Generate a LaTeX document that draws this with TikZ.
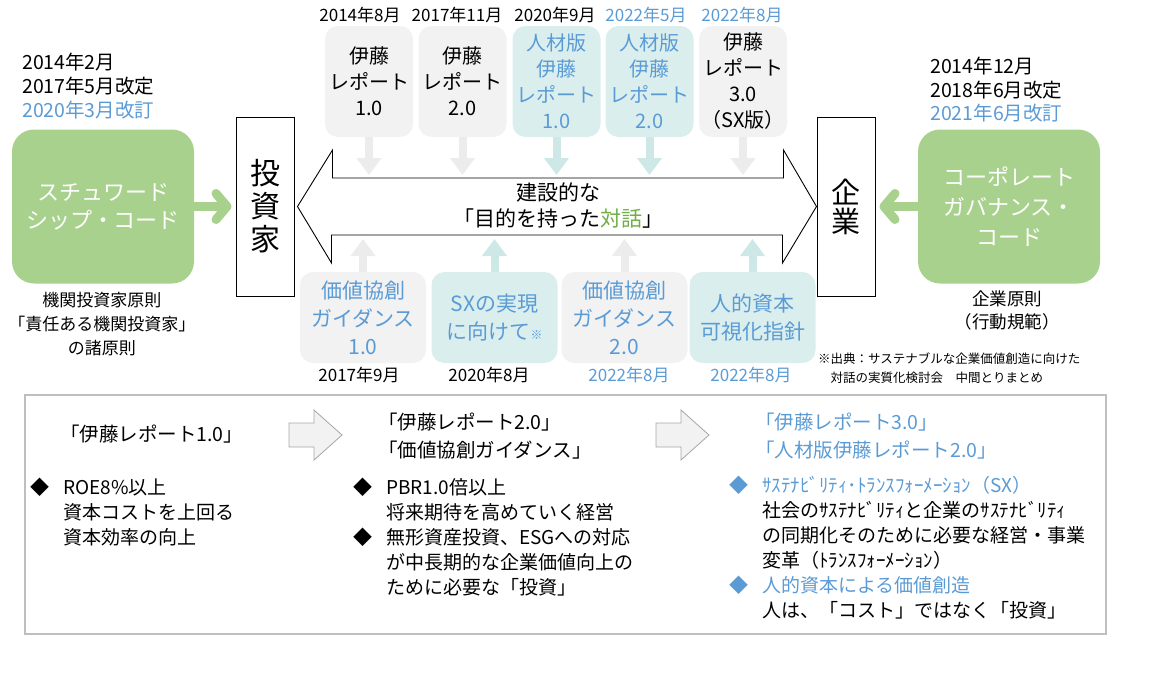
\documentclass[tikz,border=0pt]{standalone}
\usepackage{fontspec}
\setmainfont{Noto Sans CJK JP}
\usetikzlibrary{arrows.meta}
\definecolor{ccgreen}{RGB}{169,209,142}
\definecolor{ccdgreen}{RGB}{112,173,71}
\definecolor{ccblue}{RGB}{91,155,213}
\definecolor{ccteal}{RGB}{218,238,238}
\definecolor{cctealarr}{RGB}{206,232,232}
\definecolor{ccgray}{RGB}{242,242,242}
\definecolor{ccgrayarr}{RGB}{236,236,236}
\definecolor{ccstepline}{RGB}{166,166,166}
\definecolor{ccpanel}{RGB}{191,191,191}
\newcommand{\jfs}[2]{\fontsize{#1}{#2}\selectfont}
\newcommand{\ptbullet}{\makebox[33pt][l]{◆}}
\newcommand{\ptindent}{\hspace*{33pt}}
\begin{document}
\begin{tikzpicture}
[x=1pt,y=-1pt,
 every node/.style={inner sep=0pt},%
 codebox/.style={fill=ccgreen,rounded corners=22pt,minimum width=182pt,minimum height=154pt,text=white,align=center},%
 actorbox/.style={draw,line width=1pt,minimum width=58pt,minimum height=179pt,align=center},%
 topbox/.style={rounded corners=13pt,minimum width=88pt,minimum height=111pt,align=center,font=\jfs{20}{26}},%
 lowbox/.style={rounded corners=13pt,minimum width=126pt,minimum height=91pt,align=center,text=ccblue,font=\jfs{21}{28}},%
 grayfill/.style={fill=ccgray},%
 tealfill/.style={fill=ccteal,text=ccblue},%
 datelabel/.style={font=\jfs{17}{17}},%
 greenarrow/.style={draw=ccgreen,line width=9pt,shorten >=4pt,-{Straight Barb[length=11pt,width=26pt,round]}},%
 grayarrow/.style={draw=ccgrayarr,line width=8pt,-{Triangle[length=17pt,width=24pt]}},%
 tealarrow/.style={draw=cctealarr,line width=8pt,-{Triangle[length=17pt,width=24pt]}},%
 bigarrow/.style={draw,fill=white,line width=0.9pt},%
 stepflow/.style={draw=ccstepline,fill=ccgray,line width=0.8pt},%
 paneltext/.style={anchor=north west,align=left,font=\jfs{19}{25}}]
\useasboundingbox (0,0) rectangle (1154,678);
%% investors and companies
\node[actorbox,font=\jfs{30}{33}] (inv) at (265,206.5) {投\\資\\家};
\node[actorbox,font=\jfs{29}{29}] (corp) at (846,206.5) {企\\業};
%% the two codes
\node[codebox,font=\jfs{22}{28}] (steward) at (103,206.5) {スチュワード\\シップ・コード};
\node[codebox,font=\jfs{22}{30}] (cgcode) at (1009,206.5) {コーポレート\\ガバナンス・\\コード};
\draw[greenarrow] (steward.east) -- (inv.west);
\draw[greenarrow] (cgcode.west) -- (corp.east);
\node[anchor=west,align=left,font=\jfs{19.5}{24}] (stewdate) at (22,86) {2014年2月\\2017年5月改定\\\textcolor{ccblue}{2020年3月改訂}};
\node[align=center,font=\jfs{17}{24}] (stewnote) at (102,324) {機関投資家原則\\「責任ある機関投資家」\\の諸原則};
\node[anchor=west,align=left,font=\jfs{19.5}{23.5}] (cgdate) at (930,90) {2014年12月\\2018年6月改定\\\textcolor{ccblue}{2021年6月改訂}};
\node[align=center,font=\jfs{17.5}{23}] (cgnote) at (1007,310.5) {企業原則\\（行動規範）};
%% dialogue arrow
\draw[bigarrow] ([xshift=3pt]inv.east) -- ++(35,-56.5) -- ++(0,28) -- ++(451,0) -- ++(0,-28)
  -- (corp.west) -- ++(-34,56.5) -- ++(0,-28) -- ++(-451,0) -- ++(0,28) -- cycle;
\node[align=center,font=\jfs{21}{26}] (dialog) at (558,206) {建設的な\\「目的を持った\textcolor{ccdgreen}{対話}」};
\coordinate (uppertip) at (0,175);
\coordinate (lowertip) at (0,239);
%% reports above
\node[topbox,grayfill] (ito1) at (369,81.5) {伊藤\\レポート\\1.0};
\node[topbox,grayfill] (ito2) at (462.5,81.5) {伊藤\\レポート\\2.0};
\node[topbox,tealfill] (hr1) at (556.5,81.5) {人材版\\伊藤\\レポート\\1.0};
\node[topbox,tealfill] (hr2) at (649.5,81.5) {人材版\\伊藤\\レポート\\2.0};
\node[topbox,grayfill] (ito3) at (743,81.5) {伊藤\\レポート\\3.0\\（SX版）};
\node[datelabel] (ito1date) at (360,15) {2014年8月};
\node[datelabel] (ito2date) at (457,15) {2017年11月};
\node[datelabel] (hr1date) at (555,15) {2020年9月};
\node[datelabel,text=ccblue] (hr2date) at (646,15) {2022年5月};
\node[datelabel,text=ccblue] (ito3date) at (742,15) {2022年8月};
\draw[grayarrow] (ito1.south) -- (ito1.south |- uppertip);
\draw[grayarrow] (ito2.south) -- (ito2.south |- uppertip);
\draw[tealarrow] (hr1.south) -- (hr1.south |- uppertip);
\draw[tealarrow] (hr2.south) -- (hr2.south |- uppertip);
\draw[grayarrow] (ito3.south) -- (ito3.south |- uppertip);
%% guidance below
\node[lowbox,grayfill] (vc1) at (363,317.5) {価値協創\\ガイダンス\\1.0};
\node[lowbox,tealfill] (sx) at (494.5,317.5) {SXの実現\\に向けて{\jfs{12}{12}※}};
\node[lowbox,grayfill] (vc2) at (624.5,317.5) {価値協創\\ガイダンス\\2.0};
\node[lowbox,tealfill] (hc) at (752.5,317.5) {人的資本\\可視化指針};
\node[datelabel] (vc1date) at (359,375) {2017年9月};
\node[datelabel] (sxdate) at (489,375) {2020年8月};
\node[datelabel,text=ccblue] (vc2date) at (629,375) {2022年8月};
\node[datelabel,text=ccblue] (hcdate) at (751,375) {2022年8月};
\draw[grayarrow] (vc1.north) -- (vc1.north |- lowertip);
\draw[tealarrow] (sx.north) -- (sx.north |- lowertip);
\draw[grayarrow] (vc2.north) -- (vc2.north |- lowertip);
\draw[tealarrow] (hc.north) -- (hc.north |- lowertip);
\node[anchor=north west,align=left,font=\jfs{12.5}{19}] (source) at (818,353) {※出典：サステナブルな企業価値創造に向けた\\\hspace*{12.5pt}対話の実質化検討会　中間とりまとめ};
%% summary panel
\draw[draw=ccpanel,line width=2pt] (25,395) rectangle (1106,634);
\node[anchor=west,font=\jfs{19.5}{28}] (stage1) at (60,434) {「伊藤レポート1.0」};
\node[anchor=west,align=left,font=\jfs{19.5}{28}] (stage2) at (378,436.5) {「伊藤レポート2.0」\\「価値協創ガイダンス」};
\node[anchor=west,align=left,font=\jfs{19.5}{28},text=ccblue] (stage3) at (755,436.5) {「伊藤レポート3.0」\\「人材版伊藤レポート2.0」};
\foreach \x in {289,656}
  \draw[stepflow] (\x,423) -- ++(25,0) -- ++(0,-13) -- ++(28,25) -- ++(-28,25) -- ++(0,-13) -- ++(-25,0) -- cycle;
\node[paneltext] (roe) at (30,478) {\ptbullet ROE8\%以上\\\ptindent 資本コストを上回る\\\ptindent 資本効率の向上};
\node[paneltext] (pbr) at (353,478) {\ptbullet PBR1.0倍以上\\\ptindent 将来期待を高めていく経営\\\ptbullet 無形資産投資、ESGへの対応\\\ptindent が中長期的な企業価値向上の\\\ptindent ために必要な「投資」};
\node[paneltext] (sxpoint) at (729,476) {\textcolor{ccblue}{\ptbullet ｻｽﾃﾅﾋﾞﾘﾃｨ･ﾄﾗﾝｽﾌｫｰﾒｰｼｮﾝ（SX）}\\\ptindent 社会のｻｽﾃﾅﾋﾞﾘﾃｨと企業のｻｽﾃﾅﾋﾞﾘﾃｨ\\\ptindent の同期化そのために必要な経営・事業\\\ptindent 変革（ﾄﾗﾝｽﾌｫｰﾒｰｼｮﾝ）\\\textcolor{ccblue}{\ptbullet 人的資本による価値創造}\\\ptindent 人は、「コスト」ではなく「投資」};
\end{tikzpicture}
\end{document}
